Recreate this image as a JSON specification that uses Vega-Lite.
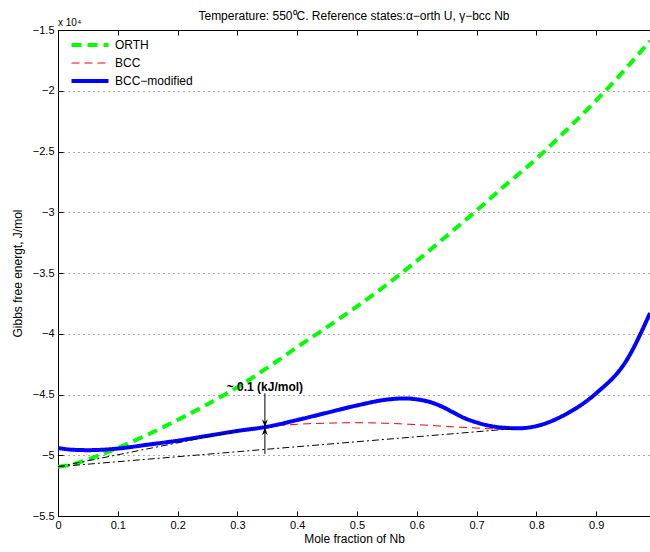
{
  "$schema": "https://vega.github.io/schema/vega-lite/v6.json",
  "width": 592,
  "height": 486,
  "autosize": {"type": "none"},
  "padding": {"left": 58, "top": 30, "right": 0, "bottom": 36},
  "title": {"text": "Temperature: 550⁰C. Reference states:α−orth U, γ−bcc Nb", "font": "Liberation Sans", "fontSize": 12, "fontWeight": "normal", "color": "black", "offset": -5, "frame": "group"},
  "config": {
    "view": {"stroke": null},
    "axis": {"domainColor": "black", "tickColor": "black", "labelColor": "black", "titleColor": "black", "labelFont": "Liberation Sans", "labelFontSize": 11, "titleFont": "Liberation Sans", "titleFontSize": 12, "titleFontWeight": "normal"},
    "legend": {"labelFont": "Liberation Sans", "labelFontSize": 12, "labelColor": "black"}
  },
  "datasets": {
    "curves": [
      {"series": "ORTH", "x": 0, "y": -50940},
      {"series": "ORTH", "x": 0.025, "y": -50750},
      {"series": "ORTH", "x": 0.05, "y": -50350},
      {"series": "ORTH", "x": 0.1, "y": -49400},
      {"series": "ORTH", "x": 0.15, "y": -48300},
      {"series": "ORTH", "x": 0.2, "y": -47100},
      {"series": "ORTH", "x": 0.25, "y": -45800},
      {"series": "ORTH", "x": 0.3, "y": -44400},
      {"series": "ORTH", "x": 0.35, "y": -42800},
      {"series": "ORTH", "x": 0.4, "y": -41100},
      {"series": "ORTH", "x": 0.45, "y": -39450},
      {"series": "ORTH", "x": 0.5, "y": -37750},
      {"series": "ORTH", "x": 0.55, "y": -35950},
      {"series": "ORTH", "x": 0.6, "y": -34000},
      {"series": "ORTH", "x": 0.65, "y": -31950},
      {"series": "ORTH", "x": 0.7, "y": -29850},
      {"series": "ORTH", "x": 0.75, "y": -27700},
      {"series": "ORTH", "x": 0.8, "y": -25600},
      {"series": "ORTH", "x": 0.85, "y": -23250},
      {"series": "ORTH", "x": 0.9, "y": -20800},
      {"series": "ORTH", "x": 0.95, "y": -18150},
      {"series": "ORTH", "x": 0.99, "y": -15900},
      {"series": "BCC", "x": 0, "y": -49400},
      {"series": "BCC", "x": 0.025, "y": -49550},
      {"series": "BCC", "x": 0.05, "y": -49580},
      {"series": "BCC", "x": 0.1, "y": -49450},
      {"series": "BCC", "x": 0.15, "y": -49130},
      {"series": "BCC", "x": 0.2, "y": -48800},
      {"series": "BCC", "x": 0.25, "y": -48400},
      {"series": "BCC", "x": 0.3, "y": -48000},
      {"series": "BCC", "x": 0.35, "y": -47650},
      {"series": "BCC", "x": 0.4, "y": -47450},
      {"series": "BCC", "x": 0.45, "y": -47360},
      {"series": "BCC", "x": 0.5, "y": -47320},
      {"series": "BCC", "x": 0.55, "y": -47370},
      {"series": "BCC", "x": 0.6, "y": -47480},
      {"series": "BCC", "x": 0.65, "y": -47630},
      {"series": "BCC", "x": 0.7, "y": -47760},
      {"series": "BCC", "x": 0.75, "y": -47870},
      {"series": "BCC", "x": 0.77, "y": -47800},
      {"series": "BCC", "x": 0.8, "y": -47600},
      {"series": "BCC", "x": 0.85, "y": -46600},
      {"series": "BCC", "x": 0.9, "y": -44900},
      {"series": "BCC", "x": 0.95, "y": -42250},
      {"series": "BCC", "x": 0.99, "y": -38300},
      {"series": "BCC−modified", "x": 0, "y": -49400},
      {"series": "BCC−modified", "x": 0.025, "y": -49550},
      {"series": "BCC−modified", "x": 0.05, "y": -49580},
      {"series": "BCC−modified", "x": 0.1, "y": -49450},
      {"series": "BCC−modified", "x": 0.15, "y": -49130},
      {"series": "BCC−modified", "x": 0.2, "y": -48800},
      {"series": "BCC−modified", "x": 0.25, "y": -48400},
      {"series": "BCC−modified", "x": 0.3, "y": -48000},
      {"series": "BCC−modified", "x": 0.35, "y": -47650},
      {"series": "BCC−modified", "x": 0.4, "y": -47100},
      {"series": "BCC−modified", "x": 0.45, "y": -46500},
      {"series": "BCC−modified", "x": 0.5, "y": -45900},
      {"series": "BCC−modified", "x": 0.55, "y": -45420},
      {"series": "BCC−modified", "x": 0.58, "y": -45320},
      {"series": "BCC−modified", "x": 0.6, "y": -45400},
      {"series": "BCC−modified", "x": 0.62, "y": -45590},
      {"series": "BCC−modified", "x": 0.64, "y": -45950},
      {"series": "BCC−modified", "x": 0.66, "y": -46450},
      {"series": "BCC−modified", "x": 0.68, "y": -46950},
      {"series": "BCC−modified", "x": 0.7, "y": -47300},
      {"series": "BCC−modified", "x": 0.72, "y": -47560},
      {"series": "BCC−modified", "x": 0.74, "y": -47710},
      {"series": "BCC−modified", "x": 0.77, "y": -47780},
      {"series": "BCC−modified", "x": 0.8, "y": -47600},
      {"series": "BCC−modified", "x": 0.85, "y": -46600},
      {"series": "BCC−modified", "x": 0.9, "y": -44900},
      {"series": "BCC−modified", "x": 0.95, "y": -42250},
      {"series": "BCC−modified", "x": 0.99, "y": -38300}
    ],
    "tangents": [
      {"line": "t1", "x": 0, "y": -50940},
      {"line": "t1", "x": 0.3, "y": -48000},
      {"line": "t2", "x": 0, "y": -50940},
      {"line": "t2", "x": 0.76, "y": -47820}
    ],
    "gap": [{"x": 0.346, "top": -44900, "bottom": -49900, "tip": -47700, "label": "~ 0.1 (kJ/mol)", "labelY": -44350}],
    "exponent": [{"x": 0, "y": -15000, "label": "x 10⁴"}]
  },
  "resolve": {"axis": {"x": "independent", "y": "independent"}},
  "layer": [
    {
      "data": {"name": "curves"},
      "mark": {"type": "line", "interpolate": "monotone", "clip": true},
      "encoding": {
        "x": {"field": "x", "type": "quantitative", "scale": {"domain": [0, 0.99], "nice": false},
          "axis": {"orient": "bottom", "title": "Mole fraction of Nb", "values": [0, 0.1, 0.2, 0.3, 0.4, 0.5, 0.6, 0.7, 0.8, 0.9], "format": "~g", "grid": false, "tickSize": -5, "labelPadding": 8, "titlePadding": 3, "labelFlush": false}},
        "y": {"field": "y", "type": "quantitative", "scale": {"domain": [-55000, -15000], "nice": false, "zero": false},
          "axis": {"orient": "left", "title": "Gibbs free energt, J/mol", "values": [-55000, -50000, -45000, -40000, -35000, -30000, -25000, -20000, -15000], "labelExpr": "format(datum.value / 10000, '~g')", "grid": true, "gridDash": [1, 4], "gridColor": "#555", "tickSize": -5, "labelPadding": 9, "titlePadding": 8, "labelFlush": false}},
        "color": {"field": "series", "type": "nominal", "sort": ["ORTH", "BCC", "BCC−modified"],
          "scale": {"domain": ["ORTH", "BCC", "BCC−modified"], "range": ["#00ff00", "#ff0000", "#0000ff"]},
          "legend": {"title": null, "orient": "none", "legendX": 13, "legendY": 8, "padding": 0, "symbolType": "stroke", "symbolSize": 1369, "clipHeight": 14, "rowPadding": 4, "labelOffset": 19, "symbolOffset": 13,
            "encode": {"symbols": {"update": {"strokeWidth": {"signal": "datum.value === 'BCC' ? 1 : 4"}}}}}},
        "strokeDash": {"field": "series", "type": "nominal", "sort": ["ORTH", "BCC", "BCC−modified"],
          "scale": {"domain": ["ORTH", "BCC", "BCC−modified"], "range": [[10, 6], [8, 5], [1, 0]]}},
        "strokeWidth": {"condition": {"test": "datum.series === 'BCC'", "value": 1}, "value": 4}
      }
    },
    {
      "data": {"name": "tangents"},
      "mark": {"type": "line", "color": "black", "strokeWidth": 1, "strokeDash": [7, 3, 2, 3]},
      "encoding": {
        "x": {"field": "x", "type": "quantitative", "axis": {"orient": "top", "labels": false, "title": null, "values": [0, 0.1, 0.2, 0.3, 0.4, 0.5, 0.6, 0.7, 0.8, 0.9], "grid": false, "tickSize": -5}},
        "y": {"field": "y", "type": "quantitative", "axis": null},
        "detail": {"field": "line", "type": "nominal"}
      }
    },
    {
      "data": {"name": "gap"},
      "mark": {"type": "rule", "color": "black", "strokeWidth": 1},
      "encoding": {
        "x": {"field": "x", "type": "quantitative", "axis": null},
        "y": {"field": "top", "type": "quantitative", "axis": null},
        "y2": {"field": "bottom"}
      }
    },
    {
      "data": {"name": "gap"},
      "mark": {"type": "point", "filled": true, "color": "black", "opacity": 1, "size": 80, "shape": "M0,0L-0.65,-1.8L0,-1.2L0.65,-1.8Z"},
      "encoding": {
        "x": {"field": "x", "type": "quantitative", "axis": null},
        "y": {"field": "tip", "type": "quantitative", "axis": null}
      }
    },
    {
      "data": {"name": "gap"},
      "mark": {"type": "point", "filled": true, "color": "black", "opacity": 1, "size": 80, "shape": "M0,0L-0.65,1.8L0,1.2L0.65,1.8Z"},
      "encoding": {
        "x": {"field": "x", "type": "quantitative", "axis": null},
        "y": {"field": "tip", "type": "quantitative", "axis": null}
      }
    },
    {
      "data": {"name": "gap"},
      "mark": {"type": "text", "font": "Liberation Sans", "fontSize": 12, "fontWeight": "bold", "color": "black", "align": "center", "baseline": "middle"},
      "encoding": {
        "x": {"field": "x", "type": "quantitative", "axis": null},
        "y": {"field": "labelY", "type": "quantitative", "axis": null},
        "text": {"field": "label"}
      }
    },
    {
      "data": {"name": "exponent"},
      "mark": {"type": "text", "font": "Liberation Sans", "fontSize": 10, "color": "black", "align": "left", "baseline": "alphabetic", "dy": -4},
      "encoding": {
        "x": {"field": "x", "type": "quantitative", "axis": null},
        "y": {"field": "y", "type": "quantitative", "axis": null},
        "text": {"field": "label"}
      }
    }
  ]
}
